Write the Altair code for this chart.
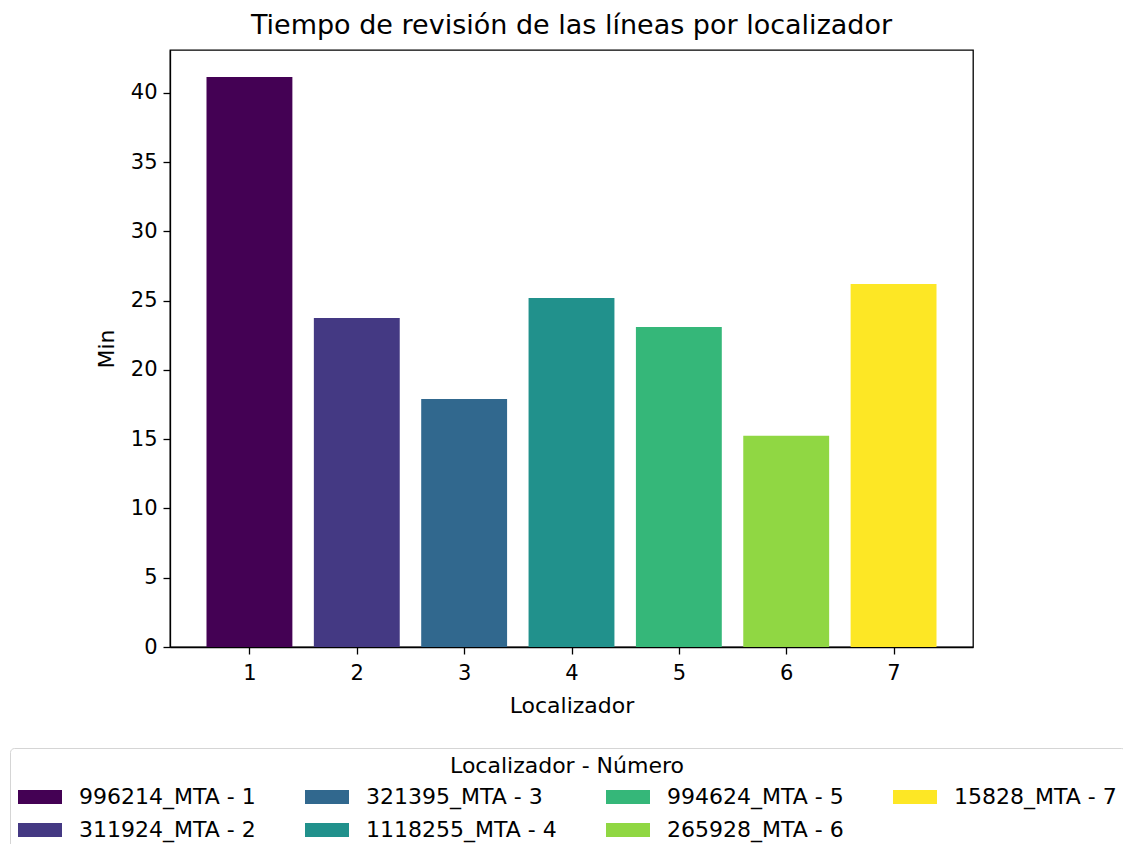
import altair as alt
import pandas as pd

localizador = [1, 2, 3, 4, 5, 6, 7]
minutos = [41.15, 23.75, 17.9, 25.2, 23.1, 15.25, 26.2]
etiquetas = ["996214_MTA - 1", "311924_MTA - 2", "321395_MTA - 3", "1118255_MTA - 4",
             "994624_MTA - 5", "265928_MTA - 6", "15828_MTA - 7"]
colores = ["#440154", "#443983", "#31688e", "#21918c", "#35b779", "#90d743", "#fde725"]

df = pd.DataFrame({"loc": localizador, "min": minutos, "label": etiquetas})

FONT = "DejaVu Sans"

chart = alt.Chart(df).transform_calculate(
    x0="datum.loc - 0.4", x1="datum.loc + 0.4"
).mark_bar().encode(
    x=alt.X("x0:Q", scale=alt.Scale(domain=[0.26, 7.74], nice=False, zero=False),
            axis=alt.Axis(title="Localizador", values=localizador, format="d",
                          tickSize=7, labelPadding=8, titlePadding=12)),
    x2="x1:Q",
    y=alt.Y("min:Q", scale=alt.Scale(domain=[0, 43.1], nice=False),
            axis=alt.Axis(title="Min", values=[0, 5, 10, 15, 20, 25, 30, 35, 40],
                          tickSize=7, labelPadding=6, titlePadding=12)),
    y2=alt.datum(0),
    color=alt.Color("label:N", scale=alt.Scale(domain=etiquetas, range=colores),
                    legend=alt.Legend(
                        title="Localizador - Número", orient="none",
                        legendX=-160, legendY=698, columns=4,
                        symbolType="M-2,-0.64L2,-0.64L2,0.64L-2,0.64Z",
                        symbolSize=484, symbolStrokeWidth=0, symbolOpacity=1,
                        symbolOffset=11, labelOffset=28,
                        columnPadding=49, rowPadding=11,
                        labelLimit=400, titleLimit=800,
                        gridAlign="each", strokeColor="#d5d5d5", fillColor="white",
                        padding=8, cornerRadius=4, titleAnchor="middle",
                        titleFontSize=22, titleFontWeight="normal", titleFont=FONT,
                        titleColor="black", titlePadding=8,
                        labelFontSize=22, labelFont=FONT, labelColor="black")),
).properties(
    width=803, height=597,
    title=alt.TitleParams("Tiempo de revisión de las líneas por localizador",
                          fontSize=27, font=FONT, fontWeight="normal",
                          color="black", offset=10),
    autosize=alt.AutoSizeParams(type="none"),
    padding={"left": 162, "top": 42, "right": 150, "bottom": 197},
).configure_view(
    stroke="black", strokeWidth=1.3
).configure_axis(
    domainColor="black", domainWidth=1.3, tickColor="black", tickWidth=1.3,
    labelFont=FONT, labelFontSize=21, labelColor="black",
    titleFont=FONT, titleFontSize=22, titleFontWeight="normal", titleColor="black",
    grid=False
)

chart.save("out.html", embed_options={"renderer": "svg", "actions": False})
